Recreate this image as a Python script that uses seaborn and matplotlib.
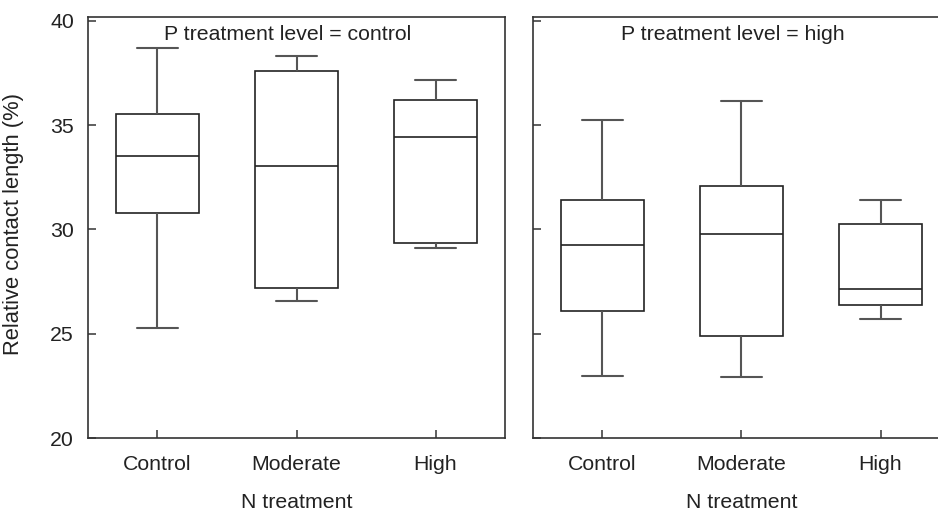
import numpy as np
import pandas as pd
import matplotlib
matplotlib.use("Agg")
import matplotlib.pyplot as plt
import seaborn as sns

# five-number summaries: min, q1, median, q3, max
n_levels = ["Control", "Moderate", "High"]
p_levels = ["control", "high"]

p_control = {
    "Control": [25.27, 30.81, 33.53, 35.51, 38.67],
    "Moderate": [26.55, 27.19, 33.06, 37.58, 38.32],
    "High": [29.13, 29.37, 34.42, 36.22, 37.14],
}
p_high = {
    "Control": [23.00, 26.10, 29.26, 31.43, 35.24],
    "Moderate": [22.92, 24.90, 29.80, 32.06, 36.14],
    "High": [25.72, 26.37, 27.17, 30.25, 31.43],
}

rows = []
for p, d in zip(p_levels, [p_control, p_high]):
    for n in n_levels:
        for v in d[n]:
            rows.append({"P": p, "N": n, "value": v})
df = pd.DataFrame(rows)

sns.set_style("white")
plt.rcParams["font.family"] = ["Liberation Sans", "DejaVu Sans"]
fs = 15.3

fig = plt.figure(figsize=(9.38, 5.14), dpi=100)
ax1 = fig.add_axes([0.0938, 0.1473, 0.4446, 0.8187])
ax2 = fig.add_axes([0.5682, 0.1473, 0.4446, 0.8187])

box_c = "#222222"
wh_c = "#555555"
for ax, p in zip([ax1, ax2], p_levels):
    sns.boxplot(data=df[df["P"] == p], x="N", y="value", order=n_levels,
                ax=ax, whis=(0, 100), width=0.6, color="white",
                linecolor=box_c, linewidth=1.2,
                whiskerprops=dict(color=wh_c, linewidth=1.5),
                capprops=dict(color=wh_c, linewidth=1.5),
                medianprops=dict(color=box_c, linewidth=1.2))
    ax.set_xlim(-0.5, 2.5)
    ax.set_ylim(20, 40.15)
    ax.set_yticks([20, 25, 30, 35, 40])
    ax.tick_params(direction="in", length=6, width=1.2, color="#444444",
                   labelsize=fs, pad=10, left=True, bottom=True,
                   labelcolor="#222222")
    ax.tick_params(axis="x", pad=12)
    for s in ax.spines.values():
        s.set_visible(True)
        s.set_color("#333333")
        s.set_linewidth(1.2)
    ax.set_xlabel("N treatment", fontsize=fs, labelpad=14, color="#222222")
    ax.set_ylabel("")
    ax.text(0.478, 0.96, "P treatment level = " + p, transform=ax.transAxes,
            ha="center", va="center", fontsize=fs, color="#222222")

ax2.set_yticklabels([])
fig.text(14 / 938, 1 - 224 / 514, "Relative contact length (%)", rotation=90,
         ha="center", va="center", fontsize=15.8, color="#222222")

fig.savefig("out.png", dpi=100)
